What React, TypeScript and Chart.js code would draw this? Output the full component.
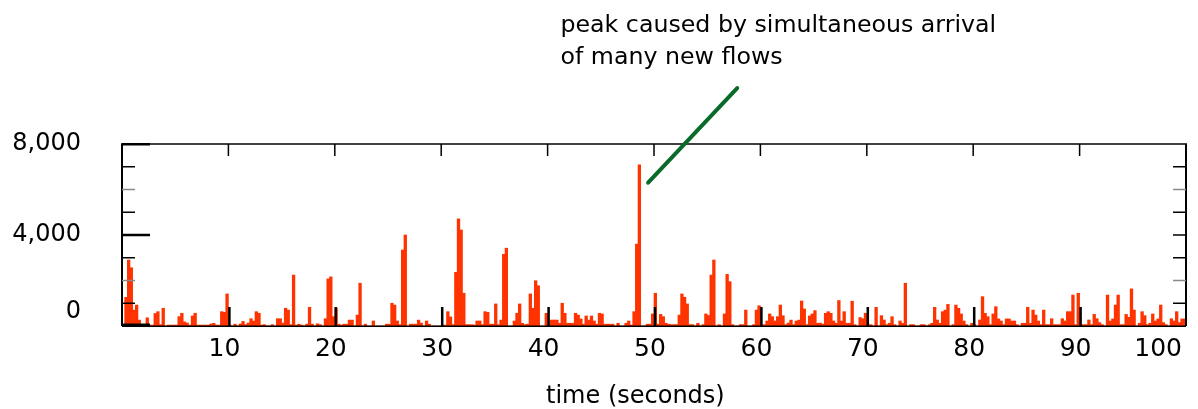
import React, { useEffect, useRef } from 'react';
import { Chart, registerables } from 'chart.js';

Chart.register(...registerables);

// width of one sample (seconds)
const binSeconds = 0.25;

// flow-count samples, one per 0.25 s
const sec00to10 = [
  60, 1260, 2900, 2560, 700, 920, 260, 40, 40, 360,
  40, 40, 550, 630, 60, 780, 0, 40, 40, 40,
  40, 410, 560, 180, 130, 40, 440, 560, 40, 40,
  40, 40, 40, 90, 120, 40, 40, 630, 600, 1410,
];
const sec10to20 = [
  40, 0, 80, 0, 90, 200, 60, 130, 320, 220,
  630, 560, 40, 60, 0, 0, 60, 0, 320, 320,
  130, 780, 700, 60, 2240, 40, 80, 40, 0, 80,
  820, 80, 0, 100, 60, 0, 320, 2070, 2160, 410,
];
const sec20to30 = [
  780, 80, 40, 80, 80, 260, 260, 0, 480, 1880,
  0, 80, 0, 0, 220, 0, 0, 0, 0, 80,
  80, 1000, 920, 220, 60, 3340, 4000, 0, 80, 80,
  80, 260, 130, 0, 220, 80, 0, 0, 0, 0,
];
const sec30to40 = [
  40, 40, 630, 400, 60, 2360, 4710, 4220, 1440, 60,
  60, 60, 40, 220, 220, 60, 630, 600, 80, 80,
  970, 60, 260, 3150, 3420, 0, 0, 220, 560, 970,
  120, 60, 80, 1410, 780, 1990, 1770, 0, 0, 560,
];
const sec40to50 = [
  40, 260, 260, 260, 120, 1000, 560, 120, 120, 120,
  560, 480, 310, 80, 440, 260, 440, 220, 80, 560,
  530, 80, 80, 80, 80, 0, 120, 0, 0, 120,
  220, 40, 630, 3600, 7080, 0, 0, 80, 80, 530,
];
const sec50to60 = [
  1440, 80, 510, 410, 120, 80, 60, 60, 60, 480,
  1410, 1260, 970, 60, 60, 0, 120, 0, 60, 530,
  460, 2240, 2900, 0, 60, 0, 530, 2270, 1950, 60,
  0, 0, 60, 60, 700, 0, 0, 60, 700, 890,
];
const sec60to70 = [
  40, 60, 220, 530, 410, 220, 410, 920, 450, 60,
  130, 260, 60, 220, 260, 1100, 750, 60, 440, 530,
  675, 120, 130, 80, 560, 630, 560, 220, 120, 1120,
  220, 630, 120, 120, 1090, 60, 0, 370, 320, 560,
];
const sec70to80 = [
  40, 60, 0, 820, 0, 455, 264, 60, 120, 410,
  60, 0, 220, 120, 1880, 0, 60, 60, 0, 0,
  60, 60, 0, 60, 120, 820, 264, 120, 630, 700,
  950, 0, 60, 920, 780, 530, 220, 60, 0, 120,
];
const sec80to90 = [
  60, 0, 264, 1290, 557, 410, 60, 530, 850, 310,
  220, 60, 310, 310, 220, 220, 60, 0, 120, 120,
  820, 120, 700, 480, 220, 60, 700, 60, 60, 320,
  60, 60, 60, 320, 220, 630, 630, 1360, 60, 1440,
];
const sec90to100 = [
  40, 60, 60, 264, 60, 510, 320, 150, 60, 0,
  1360, 220, 310, 920, 1360, 60, 60, 510, 380, 1630,
  700, 0, 120, 630, 455, 60, 120, 530, 220, 310,
  920, 150, 60, 0, 320, 220, 630, 150, 310, 310,
];

const flowCounts = [
  ...sec00to10, ...sec10to20, ...sec20to30, ...sec30to40, ...sec40to50,
  ...sec50to60, ...sec60to70, ...sec70to80, ...sec80to90, ...sec90to100,
];

// axis ticks
const xMin = 0;
const xMax = 100;
const xStep = 10;
const xInnerTicks = [10, 20, 30, 40, 50, 60, 70, 80, 90];
const yMin = 0;
const yMax = 8000;
const yStep = 1000;
const yLabelledTicks = [0, 4000, 8000];
const yMinorTicks = [1000, 2000, 3000, 5000, 6000, 7000];
const yGreyTicks = [2000, 6000];
const yRightTicks = [1000, 2000, 3000, 4000, 5000, 6000, 7000];

const xAxisTitle = 'time (seconds)';
const annotationLines = ['peak caused by simultaneous arrival', 'of many new flows'];
// annotation arrow end points in data units [seconds, value]
const arrowFrom = [49.45, 6300];
const arrowTo = [57.82, 10460];

const barColor = '#ff3300';
const FONT = '"DejaVu Sans", "Liberation Sans", sans-serif';

const decorations = {
  id: 'decorations',
  afterDatasetsDraw(chart: any) {
    const { ctx, chartArea: a, scales } = chart;
    const x = scales.x;
    const y = scales.y;
    const w = a.right - a.left;
    const h = a.bottom - a.top;
    ctx.save();

    // frame
    ctx.fillStyle = '#000';
    ctx.fillRect(a.left - 1, a.top, 2, h);
    ctx.fillRect(a.right - 1, a.top, 2, h);
    ctx.fillRect(a.left - 1, a.top - 0.75, w + 2, 1.5);
    ctx.fillRect(a.left, a.bottom - 0.5, w, 1.5);

    // left minor ticks
    yMinorTicks.forEach((v) => {
      const py = y.getPixelForValue(v);
      ctx.fillStyle = yGreyTicks.includes(v) ? '#8a8a8a' : '#000';
      ctx.fillRect(a.left, py - 0.75, 13, 1.5);
    });
    // right ticks
    yRightTicks.forEach((v) => {
      const py = y.getPixelForValue(v);
      ctx.fillStyle = yGreyTicks.includes(v) ? '#8a8a8a' : '#000';
      ctx.fillRect(a.right - 13, py - 0.75, 13, 1.5);
    });
    // left major ticks
    ctx.fillStyle = '#000';
    yLabelledTicks.forEach((v) => {
      const py = y.getPixelForValue(v);
      const top = v === yMin ? py - 2.5 : v === yMax ? py - 1 : py - 1.25;
      ctx.fillRect(a.left, top, 28, 2.5);
    });
    // top ticks and bottom tick bars
    xInnerTicks.forEach((v) => {
      const px = x.getPixelForValue(v);
      ctx.fillRect(px - 0.75, a.top, 1.5, 12);
      ctx.fillRect(px - 0.25, a.bottom - 19, 2.5, 19);
    });

    // annotation arrow
    ctx.strokeStyle = '#0a6a2a';
    ctx.lineWidth = 4;
    ctx.lineCap = 'round';
    ctx.beginPath();
    ctx.moveTo(x.getPixelForValue(arrowFrom[0]), y.getPixelForValue(arrowFrom[1]));
    ctx.lineTo(x.getPixelForValue(arrowTo[0]), y.getPixelForValue(arrowTo[1]));
    ctx.stroke();

    // annotation text
    ctx.fillStyle = '#000';
    ctx.font = '23.7px ' + FONT;
    ctx.textAlign = 'left';
    ctx.textBaseline = 'alphabetic';
    ctx.fillText(annotationLines[0], 560.5, 32);
    ctx.fillText(annotationLines[1], 560.5, 63.5);

    // x axis title
    ctx.font = '24px ' + FONT;
    ctx.textAlign = 'center';
    ctx.fillText(xAxisTitle, x.getPixelForValue(48.25), 403);

    ctx.restore();
  },
};

export default function App() {
  const canvasRef = useRef<HTMLCanvasElement | null>(null);

  useEffect(() => {
    const canvas = canvasRef.current;
    if (!canvas) return;
    const points = flowCounts.map((v, i) => ({ x: (i + 0.5) * binSeconds, y: v }));
    const chart = new Chart(canvas, {
      type: 'bar',
      data: {
        datasets: [
          {
            data: points,
            backgroundColor: barColor,
            borderWidth: 0,
            barPercentage: 1,
            categoryPercentage: 1,
          } as any,
        ],
      },
      plugins: [decorations],
      options: {
        responsive: false,
        maintainAspectRatio: false,
        animation: false,
        events: [],
        layout: { padding: { top: 144, right: 12, left: 0, bottom: 0 } },
        plugins: {
          legend: { display: false },
          tooltip: { enabled: false },
        },
        scales: {
          x: {
            type: 'linear',
            min: xMin,
            max: xMax,
            offset: false,
            grid: { display: false, drawTicks: false, tickLength: 0 },
            border: { display: false },
            ticks: {
              stepSize: xStep,
              autoSkip: false,
              maxRotation: 0,
              minRotation: 0,
              align: 'inner',
              labelOffset: -4,
              padding: 8,
              color: '#000',
              font: { family: FONT, size: 25 },
              callback: (v: any) => (v === xMin ? '' : String(v)),
            },
            afterFit: (s: any) => {
              s.height = 83;
              s.paddingLeft = 0;
              s.paddingRight = 0;
            },
          },
          y: {
            min: yMin,
            max: yMax,
            grid: { display: false, drawTicks: false, tickLength: 0 },
            border: { display: false },
            ticks: {
              stepSize: yStep,
              autoSkip: false,
              padding: 41,
              color: '#000',
              font: { family: FONT, size: 24 },
              callback: (v: any) => {
                if (v === yMin) return ['0', ''];
                return yLabelledTicks.includes(v) ? Number(v).toLocaleString('en-US') : '';
              },
            },
            afterFit: (s: any) => {
              s.width = 122;
              s.paddingTop = 0;
              s.paddingBottom = 0;
            },
          },
        },
      } as any,
    });
    return () => chart.destroy();
  }, []);

  return (
    <div style={{ position: 'absolute', left: 0, top: 0, width: 1198, height: 409, background: '#fff' }}>
      <canvas ref={canvasRef} width={1198} height={409} style={{ display: 'block', width: 1198, height: 409 }} />
    </div>
  );
}
